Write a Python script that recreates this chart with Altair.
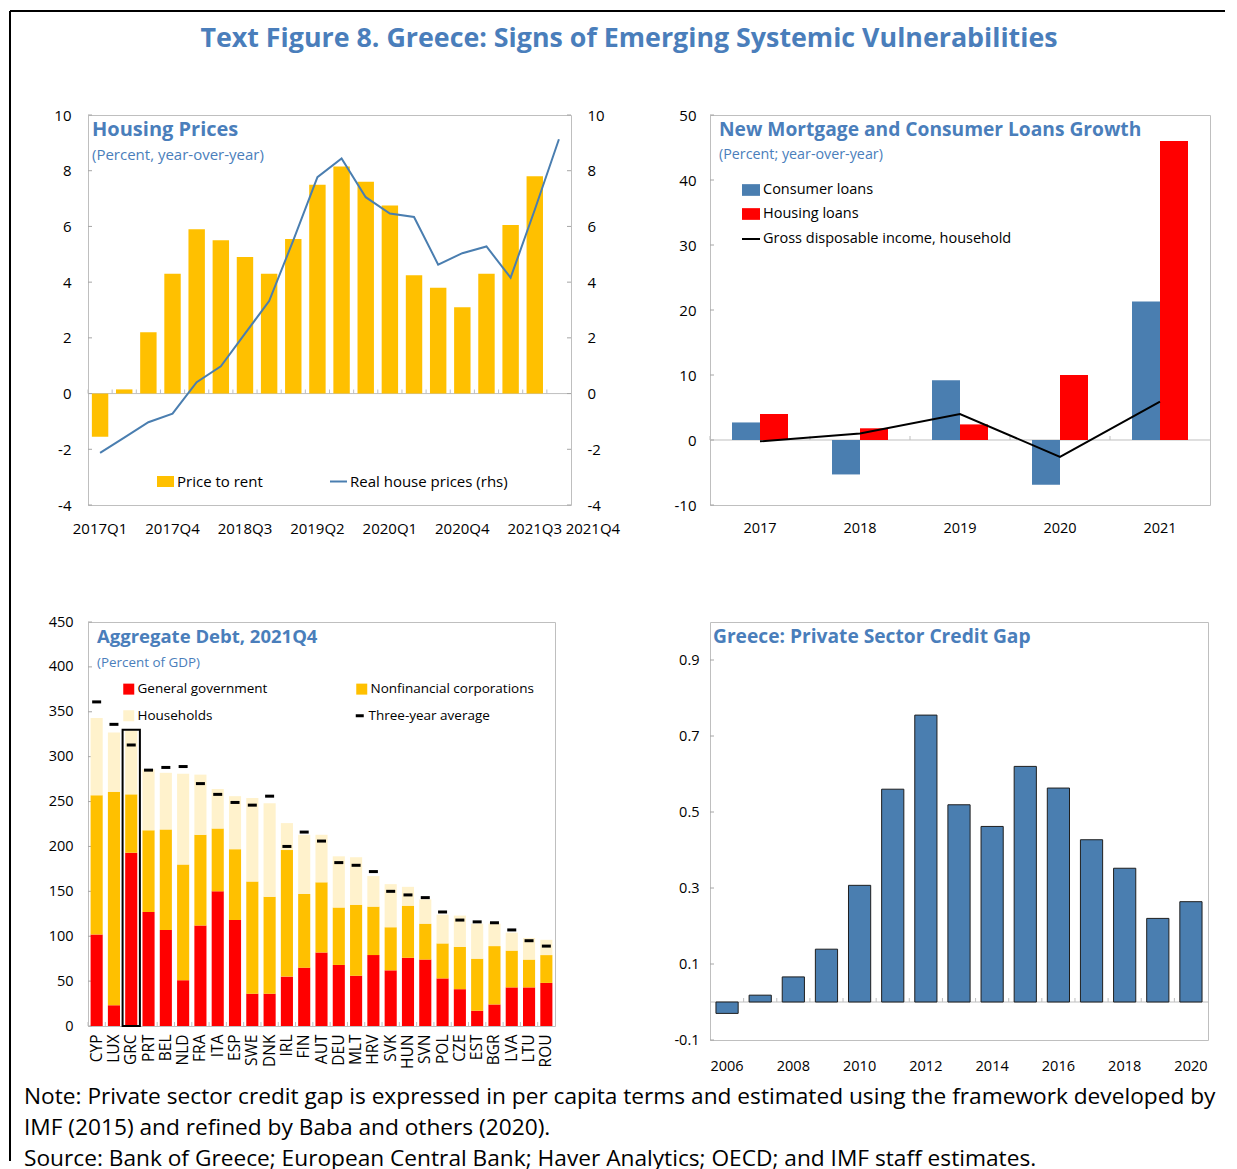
import json
import altair as alt
import pandas as pd

FONT = "Open Sans"
TITLE_BLUE = "#4A7EBB"
BLUE = "#4A7EB0"
GOLD = "#FFC000"
RED = "#FF0000"
PALE = "#FFF2CC"
FRAME_GRAY = "#BFBFBF"
TICK_GRAY = "#A6A6A6"

MAIN_TITLE = "Text Figure 8. Greece: Signs of Emerging Systemic Vulnerabilities"
NOTE_LINES = [
    "Note: Private sector credit gap is expressed in per capita terms and estimated using the framework developed by",
    "IMF (2015) and refined by Baba and others (2020).",
    "Source:  Bank of Greece; European Central Bank; Haver Analytics; OECD; and IMF staff estimates.",
]

# ---------------- Panel 1: Housing prices ----------------
QUARTERS = ["2017Q1", "2017Q2", "2017Q3", "2017Q4", "2018Q1", "2018Q2", "2018Q3", "2018Q4",
            "2019Q1", "2019Q2", "2019Q3", "2019Q4", "2020Q1", "2020Q2", "2020Q3", "2020Q4",
            "2021Q1", "2021Q2", "2021Q3", "2021Q4"]
PRICE_TO_RENT = [-1.55, 0.15, 2.2, 4.3, 5.9, 5.5, 4.9, 4.3, 5.55, 7.5, 8.15, 7.6, 6.75, 4.25,
                 3.8, 3.1, 4.3, 6.05, 7.8, None]
REAL_HOUSE_PRICES = [-2.13, -1.58, -1.03, -0.72, 0.41, 0.98, 2.15, 3.32, 5.5, 7.77, 8.44, 7.05,
                     6.46, 6.34, 4.63, 5.04, 5.28, 4.16, 6.6, 9.13]
Q_LABELS = ["2017Q1", "2017Q4", "2018Q3", "2019Q2", "2020Q1", "2020Q4", "2021Q3", "2021Q4"]
P1_TICKS = [-4, -2, 0, 2, 4, 6, 8, 10]

# ---------------- Panel 2: Loans growth ----------------
YEARS2 = ["2017", "2018", "2019", "2020", "2021"]
SERIES2 = ["Consumer loans", "Housing loans"]
CONSUMER_LOANS = [2.7, -5.3, 9.2, -6.9, 21.3]
HOUSING_LOANS = [4.0, 1.8, 2.4, 10.0, 46.0]
GDI_HOUSEHOLD = [-0.2, 1.0, 4.0, -2.6, 5.9]
GDI_NAME = "Gross disposable income, household"
P2_TICKS = [-10, 0, 10, 20, 30, 40, 50]

# ---------------- Panel 3: Aggregate debt ----------------
COUNTRIES = ["CYP", "LUX", "GRC", "PRT", "BEL", "NLD", "FRA", "ITA", "ESP", "SWE", "DNK", "IRL",
             "FIN", "AUT", "DEU", "MLT", "HRV", "SVK", "HUN", "SVN", "POL", "CZE", "EST", "BGR",
             "LVA", "LTU", "ROU"]
COMPONENTS = ["General government", "Nonfinancial corporations", "Households"]
GEN_GOV = [102, 23, 193, 127, 107, 51, 112, 150, 118, 36, 36, 55, 65, 82, 68, 56, 79, 62, 76, 74,
           53, 41, 17, 24, 43, 43, 48]
NONFIN_CORP = [155, 238, 65, 91, 112, 129, 101, 70, 79, 125, 108, 141, 82, 78, 64, 79, 54, 48, 58,
               40, 39, 47, 58, 65, 41, 31, 31]
HOUSEHOLDS = [86, 66, 71, 68, 63, 101, 67, 44, 59, 93, 104, 30, 66, 53, 57, 53, 34, 48, 21, 27, 32,
              35, 39, 25, 20, 24, 17]
THREE_YEAR_AVG = [361, 336, 313, 285, 288, 289, 270, 258, 249, 246, 256, 200, 216, 206, 182, 179,
                  172, 150, 146, 143, 127, 118, 116, 115, 107, 95, 89]
AVG_NAME = "Three-year average"
HIGHLIGHT = "GRC"
HIGHLIGHT_TOP = 330
P3_TICKS = list(range(0, 451, 50))

# ---------------- Panel 4: Credit gap ----------------
YEARS4 = [str(y) for y in range(2006, 2021)]
CREDIT_GAP = [-0.03, 0.018, 0.066, 0.139, 0.307, 0.56, 0.755, 0.519, 0.462, 0.62, 0.563, 0.427,
              0.352, 0.22, 0.264]
P4_TICKS = [-0.1, 0.1, 0.3, 0.5, 0.7, 0.9]

RECT_SYMBOL = "M-1,-0.65L1,-0.65L1,0.65L-1,0.65Z"
SQUARE_SYMBOL = "M-1,-1L1,-1L1,1L-1,1Z"
DASH_SYMBOL = "M-1,-0.375L1,-0.375L1,0.375L-1,0.375Z"

# panel sizes (plot areas)
W1, H1 = 483, 390
W2, H2 = 500, 390
W3, H3 = 467, 404
W4, H4 = 498, 418
TICK_LEN = 4
PLAIN_NUMBER = "datum.value + ''"   # keeps the ASCII hyphen for negative labels


def text_layer(text, x, y, size, bold=False, color=TITLE_BLUE, align="left"):
    df = pd.DataFrame({"t": [text]})
    return alt.Chart(df).mark_text(
        font=FONT, fontSize=size, fontWeight="bold" if bold else "normal", color=color,
        align=align, baseline="middle"
    ).encode(x=alt.value(x), y=alt.value(y), text="t:N")


def panel_heading(title, subtitle, x, size, sub_size, sub_y=40):
    layers = [text_layer(title, x, 15, size, bold=True)]
    if subtitle:
        layers.append(text_layer(subtitle, x, sub_y, sub_size))
    return layers


def legend(x, y, size=15, **kw):
    return alt.Legend(title=None, orient="none", legendX=x, legendY=y, labelFont=FONT,
                      labelFontSize=size, labelColor="black", labelLimit=500, padding=0,
                      labelOffset=2, **kw)


def inward_ticks(values, y_enc_kw, x0, x1):
    """Short gray ticks drawn inside the frame at the axis values."""
    df = pd.DataFrame({"v": values})
    return alt.Chart(df).mark_rule(color=TICK_GRAY).encode(
        y=alt.Y("v:Q", **y_enc_kw), x=alt.value(x0), x2=alt.value(x1))


def boundary_ticks(categories, field, x_kw, y_enc_kw, gap):
    """Short gray ticks rising from the zero line between categories."""
    df = pd.DataFrame({field: categories, "zero": 0})
    return alt.Chart(df).mark_tick(
        orient="vertical", size=TICK_LEN, thickness=1, color=FRAME_GRAY, opacity=1,
        xOffset=-gap / 2, yOffset=-TICK_LEN / 2
    ).encode(x=alt.X(f"{field}:N", bandPosition=0, **x_kw), y=alt.Y("zero:Q", **y_enc_kw))


zero_df = pd.DataFrame({"zero": [0]})

# ---- Panel 1 (also carries the page title and frame as annotations)
df1 = pd.DataFrame({"quarter": QUARTERS, "ptr": PRICE_TO_RENT, "rhp": REAL_HOUSE_PRICES})
df1["s_bar"] = "Price to rent"
df1["s_line"] = "Real house prices (rhs)"

P1_PAD = 0.32
x1_kw = dict(sort=QUARTERS, title=None,
             scale=alt.Scale(paddingInner=P1_PAD, paddingOuter=P1_PAD / 2),
             axis=alt.Axis(labelAngle=0, labelOverlap=False, labelPadding=16, labelFontSize=15,
                           labelExpr=f"indexof({json.dumps(Q_LABELS)}, datum.value) >= 0 ? datum.value : ''",
                           labelOffset={"condition": {"test": "datum.value === '2021Q4'",
                                                      "value": 34}, "value": 0}))
y1_kw = dict(title=None, scale=alt.Scale(domain=[-4, 10], nice=False),
             axis=alt.Axis(values=P1_TICKS, labelPadding=17, labelFontSize=15,
                           labelExpr=PLAIN_NUMBER))
zero1 = alt.Chart(zero_df).mark_rule(color=FRAME_GRAY).encode(y=alt.Y("zero:Q", **y1_kw))
ticks1l = inward_ticks(P1_TICKS, y1_kw, 0, TICK_LEN)
ticks1r = inward_ticks(P1_TICKS, y1_kw, W1 - TICK_LEN, W1)
xticks1 = boundary_ticks(QUARTERS, "quarter", x1_kw, y1_kw, P1_PAD * W1 / len(QUARTERS))
bars1 = alt.Chart(df1).mark_bar().encode(
    x=alt.X("quarter:N", **x1_kw),
    y=alt.Y("ptr:Q", **y1_kw),
    fill=alt.Fill("s_bar:N", scale=alt.Scale(domain=["Price to rent"], range=[GOLD]),
                  legend=legend(68, 357, symbolType=RECT_SYMBOL, symbolSize=289)),
)
line1 = alt.Chart(df1).mark_line(strokeWidth=2).encode(
    x=alt.X("quarter:N", **x1_kw),
    y=alt.Y("rhp:Q", title=None, scale=alt.Scale(domain=[-4, 10], nice=False),
            axis=alt.Axis(orient="right", values=P1_TICKS, labelPadding=16, labelFontSize=15,
                          labelExpr=PLAIN_NUMBER)),
    stroke=alt.Stroke("s_line:N", scale=alt.Scale(domain=["Real house prices (rhs)"], range=[BLUE]),
                      legend=legend(241, 357, symbolType="stroke", symbolSize=289,
                                    symbolStrokeWidth=2)),
)
df_frame = pd.DataFrame({"t": [MAIN_TITLE]})
page_title = text_layer(MAIN_TITLE, 541, -76, 26.8, bold=True, align="center")
frame_top = alt.Chart(df_frame).mark_rule(color="black", strokeWidth=2).encode(
    x=alt.value(-78), x2=alt.value(1137), y=alt.value(-104))
frame_left = alt.Chart(df_frame).mark_rule(color="black", strokeWidth=2).encode(
    x=alt.value(-78), y=alt.value(-104), y2=alt.value(1046))

p1 = alt.layer(
    alt.layer(zero1, ticks1l, ticks1r, xticks1, bars1), line1, page_title, frame_top, frame_left,
    *panel_heading("Housing Prices", "(Percent, year-over-year)", 4, 20, 15)
).resolve_scale(y="independent").properties(width=W1, height=H1)

# ---- Panel 2
df2b = pd.DataFrame({"year": YEARS2 * 2,
                     "series": [SERIES2[0]] * len(YEARS2) + [SERIES2[1]] * len(YEARS2),
                     "value": CONSUMER_LOANS + HOUSING_LOANS})
df2l = pd.DataFrame({"year": YEARS2, "value": GDI_HOUSEHOLD, "series": GDI_NAME})
P2_PAD = 0.44
x2_kw = dict(sort=YEARS2, title=None,
             scale=alt.Scale(paddingInner=P2_PAD, paddingOuter=P2_PAD / 2),
             axis=alt.Axis(labelAngle=0, labelPadding=16, labelFontSize=14.5))
y2_kw = dict(title=None, scale=alt.Scale(domain=[-10, 50], nice=False),
             axis=alt.Axis(values=P2_TICKS, labelPadding=14, labelFontSize=15,
                           labelExpr=PLAIN_NUMBER))
zero2 = alt.Chart(zero_df).mark_rule(color=FRAME_GRAY).encode(y=alt.Y("zero:Q", **y2_kw))
ticks2 = inward_ticks(P2_TICKS, y2_kw, 0, TICK_LEN)
xticks2 = boundary_ticks(YEARS2, "year", x2_kw, y2_kw, P2_PAD * W2 / len(YEARS2))
bars2 = alt.Chart(df2b).mark_bar().encode(
    x=alt.X("year:N", **x2_kw),
    xOffset=alt.XOffset("series:N", sort=SERIES2),
    y=alt.Y("value:Q", **y2_kw),
    fill=alt.Fill("series:N", scale=alt.Scale(domain=SERIES2, range=[BLUE, RED]),
                  legend=legend(31, 65, size=14.5, symbolType=RECT_SYMBOL, symbolSize=324,
                                rowPadding=7)),
)
line2 = alt.Chart(df2l).mark_line(strokeWidth=2).encode(
    x=alt.X("year:N", **x2_kw),
    y=alt.Y("value:Q", **y2_kw),
    stroke=alt.Stroke("series:N", scale=alt.Scale(domain=[GDI_NAME], range=["black"]),
                      legend=legend(31, 114, size=14.5, symbolType="stroke", symbolSize=324,
                                    symbolStrokeWidth=2)),
)
p2 = alt.layer(
    zero2, ticks2, xticks2, bars2, line2,
    *panel_heading("New Mortgage and Consumer Loans Growth", "(Percent; year-over-year)", 9,
                   19.2, 14.3)
).properties(width=W2, height=H2)

# ---- Panel 3 (also carries the note lines as annotations)
rows3 = []
for i, c in enumerate(COUNTRIES):
    for k, (comp, vals) in enumerate(zip(COMPONENTS, [GEN_GOV, NONFIN_CORP, HOUSEHOLDS])):
        rows3.append({"country": c, "component": comp, "value": vals[i], "ord": k})
df3 = pd.DataFrame(rows3)
df3avg = pd.DataFrame({"country": COUNTRIES, "avg": THREE_YEAR_AVG, "lab": AVG_NAME})
df3box = pd.DataFrame({"country": [HIGHLIGHT], "top": [HIGHLIGHT_TOP]})

# legend is laid out column by column: GG / Households, then NFC
LEGEND3_ORDER = [COMPONENTS[0], COMPONENTS[2], COMPONENTS[1]]
P3_PAD = 0.3
x3_kw = dict(sort=COUNTRIES, title=None,
             scale=alt.Scale(paddingInner=P3_PAD, paddingOuter=P3_PAD / 2),
             axis=alt.Axis(labelAngle=-90, labelPadding=8, labelFontSize=15.5))
y3_kw = dict(title=None, scale=alt.Scale(domain=[0, 450], nice=False),
             axis=alt.Axis(values=P3_TICKS, labelPadding=15, labelFontSize=14.5))
ticks3y = inward_ticks(P3_TICKS, y3_kw, 0, TICK_LEN)
xticks3 = boundary_ticks(COUNTRIES, "country", x3_kw, y3_kw, P3_PAD * W3 / len(COUNTRIES))
bars3 = alt.Chart(df3).mark_bar().encode(
    x=alt.X("country:N", **x3_kw),
    y=alt.Y("value:Q", stack="zero", **y3_kw),
    fill=alt.Fill("component:N", scale=alt.Scale(domain=LEGEND3_ORDER, range=[RED, PALE, GOLD]),
                  legend=legend(34, 60, size=13.5, symbolType=SQUARE_SYMBOL, symbolSize=121,
                                columns=2, columnPadding=87, rowPadding=12)),
    order=alt.Order("ord:Q"),
)
ticks3 = alt.Chart(df3avg).mark_tick(thickness=3, size=9, filled=True, opacity=1).encode(
    x=alt.X("country:N", **x3_kw),
    y=alt.Y("avg:Q", **y3_kw),
    color=alt.Color("lab:N", scale=alt.Scale(domain=[AVG_NAME], range=["black"]),
                    legend=legend(265, 87, size=13.5, symbolType=DASH_SYMBOL, symbolSize=64,
                                  symbolOpacity=1)),
)
box3 = alt.Chart(df3box).mark_bar(fillOpacity=0, stroke="black", strokeWidth=2, clip=False,
                                  width={"band": 1 / (1 - P3_PAD)}).encode(
    x=alt.X("country:N", **x3_kw),
    y=alt.Y("top:Q", **y3_kw),
    y2=alt.value(H3 + 44),
)
note_layers = [text_layer(line, -64, 475 + 31 * i, 22.7, color="black")
               for i, line in enumerate(NOTE_LINES)]
p3 = alt.layer(
    ticks3y, xticks3, bars3, ticks3, box3, *note_layers,
    *panel_heading("Aggregate Debt, 2021Q4", "(Percent of GDP)", 9, 18.5, 13.4, sub_y=41)
).properties(width=W3, height=H3)

# ---- Panel 4
df4 = pd.DataFrame({"year": YEARS4, "gap": CREDIT_GAP})
P4_PAD, P4_OUT = 0.33, 0.18
x4_kw = dict(sort=YEARS4, title=None,
             scale=alt.Scale(paddingInner=P4_PAD, paddingOuter=P4_OUT),
             axis=alt.Axis(labelAngle=0, labelPadding=19, labelFontSize=14.5,
                           labelExpr="toNumber(datum.value) % 2 == 0 ? datum.value : ''"))
y4_kw = dict(title=None, scale=alt.Scale(domain=[-0.1, 1.0], nice=False),
             axis=alt.Axis(values=P4_TICKS, labelPadding=11, labelFontSize=14.5,
                           labelExpr=PLAIN_NUMBER))
zero4 = alt.Chart(zero_df).mark_rule(color=FRAME_GRAY).encode(y=alt.Y("zero:Q", **y4_kw))
ticks4y = inward_ticks(P4_TICKS, y4_kw, 0, TICK_LEN)
step4 = W4 / (len(YEARS4) - P4_PAD + 2 * P4_OUT)
xticks4 = boundary_ticks(YEARS4, "year", x4_kw, y4_kw, P4_PAD * step4)
bars4 = alt.Chart(df4).mark_bar(color=BLUE, stroke="#1F1F1F", strokeWidth=1).encode(
    x=alt.X("year:N", **x4_kw),
    y=alt.Y("gap:Q", **y4_kw),
)
p4 = alt.layer(
    zero4, ticks4y, xticks4, bars4,
    *panel_heading("Greece: Private Sector Credit Gap", None, 3, 19.2, 14)
).properties(width=W4, height=H4)

chart = alt.concat(
    p1, p2, p3, p4, columns=2, bounds="flush",
    spacing={"row": 117, "column": 139},
    align="none",
).resolve_scale(
    fill="independent", stroke="independent", color="independent"
).properties(
    padding={"left": 0, "top": 1, "right": 0, "bottom": 0}
).configure(font=FONT).configure_view(
    stroke=FRAME_GRAY, strokeWidth=1
).configure_axis(
    labelFont=FONT, labelColor="black", grid=False, ticks=False, domain=False, labelLimit=500
)

chart.save("out.html", embed_options={"renderer": "svg", "actions": False})
